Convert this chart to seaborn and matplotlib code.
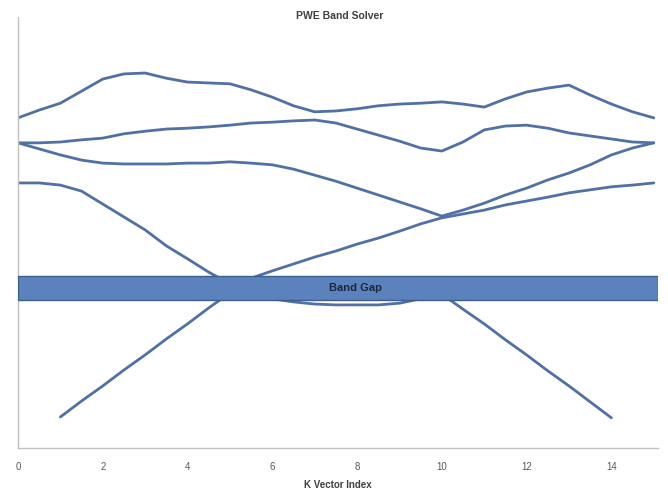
import numpy as np
import pandas as pd
import matplotlib
matplotlib.use("Agg")
import matplotlib.pyplot as plt
import seaborn as sns
from matplotlib.patches import Rectangle

# K vector index sampled at half steps
k_index = [0, 0.5, 1, 1.5, 2, 2.5, 3, 3.5, 4, 4.5, 5, 5.5, 6, 6.5, 7, 7.5,
           8, 8.5, 9, 9.5, 10, 10.5, 11, 11.5, 12, 12.5, 13, 13.5, 14, 14.5, 15]

# normalized frequency of each band
band_1 = [None, None, 0.072, 0.109, 0.144, 0.181, 0.216, 0.253, 0.288, 0.325,
          0.360, 0.353, 0.346, 0.339, 0.334, 0.332, 0.332, 0.332, 0.336, 0.346,
          0.357, 0.322, 0.288, 0.251, 0.216, 0.179, 0.144, 0.107, 0.070, None, None]
band_2 = [0.615, 0.615, 0.610, 0.596, 0.566, 0.536, 0.506, 0.469, 0.439, 0.408,
          0.381, 0.394, 0.411, 0.427, 0.443, 0.457, 0.473, 0.487, 0.503, 0.520,
          0.534, 0.543, 0.552, 0.564, 0.573, 0.582, 0.592, 0.599, 0.606, 0.610, 0.615]
band_3 = [0.708, 0.694, 0.680, 0.668, 0.661, 0.659, 0.659, 0.659, 0.661, 0.661,
          0.664, 0.661, 0.657, 0.647, 0.633, 0.619, 0.603, 0.587, 0.571, 0.555,
          0.538, 0.552, 0.568, 0.587, 0.603, 0.622, 0.638, 0.657, 0.680, 0.696, 0.708]
band_4 = [0.708, 0.708, 0.710, 0.715, 0.719, 0.729, 0.735, 0.740, 0.742, 0.745,
          0.749, 0.754, 0.756, 0.759, 0.761, 0.754, 0.740, 0.726, 0.712, 0.696,
          0.689, 0.710, 0.738, 0.747, 0.749, 0.742, 0.731, 0.724, 0.717, 0.710, 0.708]
band_5 = [0.766, 0.784, 0.800, 0.828, 0.856, 0.868, 0.870, 0.858, 0.849, 0.847,
          0.845, 0.831, 0.814, 0.794, 0.780, 0.782, 0.787, 0.794, 0.798, 0.800,
          0.803, 0.798, 0.791, 0.810, 0.826, 0.835, 0.842, 0.819, 0.798, 0.780, 0.766]

gap_low = 0.343
gap_high = 0.399
x_ticks = [0, 2, 4, 6, 8, 10, 12, 14]

bands = {"Band 1": band_1, "Band 2": band_2, "Band 3": band_3,
         "Band 4": band_4, "Band 5": band_5}
rows = []
for name, vals in bands.items():
    for k, v in zip(k_index, vals):
        if v is not None:
            rows.append({"k": k, "freq": v, "band": name})
df = pd.DataFrame(rows)

sns.set_theme(style="white")
plt.rcParams["font.family"] = ["Liberation Sans", "DejaVu Sans"]

fig = plt.figure(figsize=(6.68, 4.93), dpi=100)
ax = fig.add_axes([18 / 668, 45 / 493, 640 / 668, 431 / 493])

line_color = "#5070A6"
sns.lineplot(data=df, x="k", y="freq", units="band", estimator=None,
             color=line_color, linewidth=2.0, ax=ax, sort=False,
             solid_joinstyle="round", solid_capstyle="round")

ax.add_patch(Rectangle((0, gap_low), 15.1, gap_high - gap_low,
                       facecolor="#5B82BD", edgecolor="#3E5E8E",
                       linewidth=1.0, zorder=5))
ax.text(7.95, (gap_low + gap_high) / 2, "Band Gap", ha="center", va="center",
        fontsize=8, fontweight="bold", color="#1B2740", zorder=6)

ax.set_xlim(0, 15.1)
ax.set_ylim(0, 1)
ax.set_xticks(x_ticks)
ax.set_xticklabels([str(t) for t in x_ticks], fontsize=7, color="#595959")
ax.set_yticks([])
ax.set_xlabel("K Vector Index", fontsize=7, fontweight="bold", color="#404040",
              labelpad=6)
ax.set_ylabel("")
ax.tick_params(axis="x", direction="out", length=4, width=0.8, color="#BFBFBF",
               pad=6)
for side in ["top", "right"]:
    ax.spines[side].set_visible(False)
for side in ["left", "bottom"]:
    ax.spines[side].set_color("#BFBFBF")
    ax.spines[side].set_linewidth(1.0)

fig.text(340 / 668, 1 - 16 / 493, "PWE Band Solver", ha="center", va="center",
         fontsize=7.5, fontweight="bold", color="#404040")

fig.savefig("out.png", dpi=100)
